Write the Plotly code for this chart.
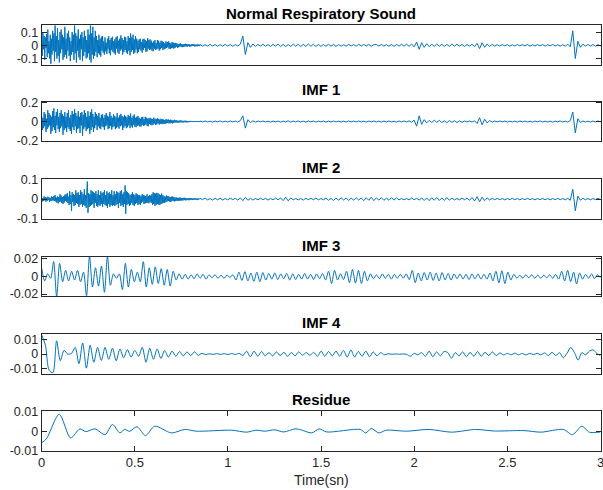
import numpy as np
import plotly.graph_objects as go

# ---------------- data ----------------
# Noisy panels: early part 0-0.85 s and late part 0.85-3 s, values in units of 0.001
orig_early = [40,-80,95,-30,70,-110,60,-20,85,-90,120,-60,30,-100,80,-140,50,-70,110,-40,
              90,-120,150,-50,70,-100,130,-80,40,-130,100,-60,120,-30,80,-110,60,-90,140,-70,
              50,-100,90,-40,110,-80,60,-120,30,-70,100,-50,80,-110,150,-60,90,-130,70,-40,
              120,-90,50,-110,80,-30,100,-120,60,-80,110,-50,70,-100,40,-90,120,-60,80,-110,
              150,-130,90,-70,140,-100,60,-80,110,-50,70,-90,40,-60,80,-70,50,-85,65,-40,
              70,-55,30,-70,60,-45,20,-65,50,-30,70,-60,40,-75,55,-35,65,-50,30,-60,
              45,-70,60,-25,70,-55,35,-65,50,-40,75,-30,55,-70,40,-50,65,-35,60,-55,
              30,-65,70,-40,55,-75,90,-50,60,-35,80,-65,45,-55,70,-30,50,-60,35,-50,
              45,-30,50,-40,25,-55,45,-35,50,-20,40,-50,30,-45,55,-25,40,-35,45,-30,
              35,-40,20,-45,30,-25,40,-35,15,-30,40,-25,35,-40,20,-30,35,-20,30,-35,
              25,-30,15,-25,30,-20,25,-15,30,-25,20,-28,15,-22,25,-18,20,-25,15,-20,
              18,-12,15,-18,10,-15,12,-8,15,-12,10,-14,8,-12,10,-9,12,-8,10,-11,
              8,-6,9,-10,5,-8,7,-6,9,-5,7,-8,6,-7,5,-8,6,-5,7,-6]
orig_late = [6,-7,5,-6,7,-5,6,-7,5,-6, 7,-6,5,-7,6,-5,10,70,-70,20,
             -15,10,-8,7,-6,8,-7,6,-8,7, -6,9,-8,7,-9,6,-8,9,-7,8,
             -9,7,-8,10,-7,8,-9,7,-8,6, -7,8,-6,7,-8,6,-7,5,-6,7,
             -5,6,-7,8,-6,7,-5,6,-7,5, 6,-5,7,-6,5,-7,6,-8,7,-6,
             8,-7,9,-8,10,-12,25,-30,20,-15, 12,-10,9,-8,10,-7,8,-9,7,-8,
             9,-7,8,-6,7,-8,6,-7,8,-10, 15,-25,20,-15,10,-8,7,-6,5,-6,
             5,-4,5,-6,4,-5,6,-4,5,-4, 5,-6,4,-5,6,-4,5,-6,5,-4,
             6,-5,4,-6,5,-7,8,-10,110,-100, 30,-15,8,-6,7,-5,6,-7,5,-6]

imf1_early = [60,-90,40,-70,100,-50,80,-110,30,-80,120,-60,90,-40,70,-130,50,-100,110,-60,
              140,-90,60,-120,100,-40,130,-80,50,-110,90,-70,120,-50,80,-140,60,-90,100,-70,
              50,-110,90,-60,120,-80,40,-100,70,-130,110,-60,80,-90,130,-50,90,-120,60,-80,
              110,-70,50,-120,90,-40,100,-150,70,-80,120,-60,90,-100,50,-80,110,-70,60,-130,
              100,-90,130,-60,80,-110,50,-70,100,-40,80,-90,60,-50,90,-70,40,-80,70,-50,
              80,-60,40,-90,70,-50,90,-40,60,-80,50,-70,100,-45,60,-85,40,-60,75,-50,
              60,-80,45,-70,90,-55,40,-75,65,-50,80,-40,60,-90,50,-65,70,-45,55,-70,
              45,-60,70,-40,55,-70,85,-50,40,-65,60,-35,75,-55,40,-60,50,-45,60,-40,
              40,-50,30,-55,45,-35,50,-45,25,-40,50,-30,40,-45,30,-50,35,-25,40,-35,
              30,-40,25,-35,40,-20,30,-35,25,-30,35,-20,28,-32,20,-25,30,-22,25,-28,
              20,-25,15,-22,25,-18,20,-15,22,-20,15,-18,20,-14,16,-20,12,-15,18,-12,
              12,-10,14,-12,8,-11,10,-9,12,-8,10,-9,7,-10,8,-7,9,-8,7,-9,
              6,-7,5,-6,7,-5,6,-4,5,-6,4,-5,6,-4,5,-5,4,-6,5,-4]
imf1_late = [5,-4,6,-5,4,-6,5,-4,6,-5, 4,-5,6,-4,5,-6,10,60,-70,20,
             -12,8,-6,5,-4,6,-5,4,-6,5, -4,5,-6,4,-5,8,-6,5,-4,6,
             -5,4,-6,5,-4,6,-7,5,-4,5, -6,4,-5,6,-4,5,-6,4,-5,6,
             -4,5,-4,6,-5,4,-6,5,-4,5, -5,4,-6,5,-4,6,-5,4,-6,5,
             -4,6,-5,7,-8,15,-50,60,-30,20, -15,12,-10,14,-8,12,-10,8,-12,10,
             -8,9,-10,7,-8,6,-5,6,-5,8, -20,40,-35,25,-15,10,-6,5,-4,5,
             -4,5,-6,4,-5,4,-6,5,-4,5, -5,4,-6,5,-4,6,-5,4,-5,4,
             -6,5,-4,6,-5,4,-6,10,100,-120, 30,-10,6,-5,4,-6,5,-4,6,-5]

imf2_early = [8,-12,5,-10,14,-6,10,-13,7,-9,12,-5,9,-14,6,-10,13,-8,11,-7,
              15,-10,20,-12,8,-18,14,-22,10,-15,25,-12,18,-20,10,-25,15,-18,22,-10,
              25,-15,30,-20,12,-30,40,-25,20,-60,35,-15,25,-35,20,-30,45,-20,30,-25,
              35,-40,20,-30,45,-25,35,-40,25,-30,50,-35,20,-45,40,90,-70,30,-40,25,
              -35,45,-30,40,-25,35,-45,30,-20,40,-35,25,-40,45,-30,20,-35,40,-25,30,
              -40,35,-25,45,-30,20,-35,40,-45,30,-25,35,-40,25,-30,45,-35,20,-30,40,
              -35,25,-30,40,-25,35,-45,30,-20,40,-35,45,-30,25,-40,35,-25,70,-75,40,
              -30,35,-25,30,-35,20,-30,25,-20,35,-30,25,-35,20,-25,30,-20,25,-30,20,
              -25,20,-30,15,-20,25,-15,20,-25,18,-22,15,-20,25,-18,15,-22,20,-15,18,
              -20,25,-30,35,-25,30,-35,28,-30,32,-25,30,-28,25,-30,20,-25,28,-22,20,
              -18,15,-20,12,-15,18,-12,15,-10,14,-12,10,-15,12,-10,13,-9,11,-12,8,
              -10,8,-9,7,-10,6,-8,9,-7,6,-8,5,-7,6,-5,7,-6,5,-6,4,
              -5,4,-6,5,-4,5,-3,4,-5,3,-4,5,-3,4,-4,3,-5,4,-3,4]
imf2_late = [4,-3,5,-4,3,-5,4,-3,4,-5, 3,-4,5,-3,4,-5,6,-8,9,-6,
             4,-5,3,-4,5,-3,4,-5,3,-4, 5,-4,6,-8,10,-9,6,-4,3,-4,
             3,-5,4,-3,4,-3,5,-4,3,-4, 5,-6,4,-7,5,-6,7,-5,6,-7,
             5,-6,7,-5,6,-8,7,-6,10,-8, 6,-5,7,-6,5,-6,7,-5,6,-4,
             3,-4,3,-4,5,-3,4,-5,6,-7, 6,-8,7,-6,8,-7,6,-7,8,-6,
             5,-4,3,-4,5,-3,4,-6,8,-10, 12,-14,10,-8,6,-5,4,-3,4,-3,
             3,-4,3,-3,4,-3,3,-4,3,-3, 4,-3,3,-4,3,-3,4,-3,3,-4,
             3,-3,4,-3,3,-4,4,-6,50,-60, 15,-6,4,-3,3,-4,3,-3,4,-3]

# IMF 3, units of 0.0001, evenly spaced over 0-3 s
imf3 = [95,-50,30,-20,170,-230,150,-60,70,-50, 60,-40,70,-60,50,-220,230,-120,100,-110,
        120,-180,230,-100,30,-20,30,-150,150,-120, 80,-60,50,-60,170,-120,100,-90,110,-80,
        90,-100,80,-110,60,-40,30,-30,25,-30, 20,-25,30,-20,25,-30,20,-15,20,-20,
        15,-20,15,-10,20,-40,50,-45,55,-50, 40,-55,50,-60,45,-40,35,-30,40,-35,
        30,-25,35,-40,30,-35,25,-30,35,-30, 25,-35,30,-25,35,-40,60,-80,70,-40,
        30,-35,60,-70,80,-75,70,-80,60,-50, 30,-25,20,-25,30,-20,25,-30,25,-20,
        25,-20,30,-35,70,-70,40,-50,45,-40, 50,-45,40,-50,45,-40,35,-40,30,-25,
        30,-30,25,-35,30,-25,30,-30,25,-30, 40,-50,60,-70,65,-80,50,-40,25,-20,
        15,-20,20,-15,20,-20,15,-20,15,-15, 20,-20,25,-30,60,-50,70,-60,50,-85,
        40,-30,25,-20,30,-25,20,-15]

# IMF 4, units of 0.0001, evenly spaced over 0-3 s
imf4 = [130,60,-110,-125,90,-45,25,0,5,45, -65,75,-95,60,-55,45,-43,45,-35,40,
        -45,35,-25,30,-20,25,-15,45,-55,40, -35,35,-30,25,-20,20,-15,18,-12,15,
        -10,15,-8,5,-3,2,-2,3,-2,3, -3,4,-3,5,-10,20,-18,20,-15,18,
        -12,10,-12,15,-10,12,-15,10,-12,15, -8,10,-8,12,-15,20,-15,18,-12,20,
        -15,25,-20,28,-20,18,-15,20,-18,15, -12,10,-5,2,-1,1,-1,1,-2,-15,
        5,-5,10,-15,20,-18,15,-12,18,10, -28,10,-12,15,-18,12,-15,18,-15,12,
        -10,15,-10,8,-5,5,-5,6,-5,5, -6,5,-4,5,-5,8,-10,12,-10,10,
        -25,5,45,10,-40,10,-5,20,28,5, -10]

# Residue: (time s, value in 0.0001)
res_t = [0.0,0.025,0.0945,0.155,0.205,0.237,0.286,0.34,0.38,0.42,0.446,0.47,0.512,0.557,
         0.607,0.696,0.768,0.83,1.02,1.1,1.15,1.2,1.25,1.3,1.36,1.385,1.45,1.49,1.53,1.71,
         1.74,1.77,1.81,1.85,1.96,2.08,2.2,2.33,2.43,2.59,2.68,2.8,2.85,2.9,2.94,3.0]
res_v = [-60,-40,88,-35,12,-2,12,-18,35,-9,10,-1,23,-23,
         26,-9,9,0,5,-5,5,0,7,-4,12,9,-9,12,-4,9,
         -9,14,-9,5,0,9,-5,9,1,3,-5,9,-18,26,-5,-4]

titles = ["Normal Respiratory Sound", "IMF 1", "IMF 2", "IMF 3", "IMF 4", "Residue"]
y_ticks = [[0.1, 0, -0.1], [0.2, 0, -0.2], [0.1, 0, -0.1],
           [0.02, 0, -0.02], [0.01, 0, -0.01], [0.01, 0, -0.01]]
y_ticktext = [["0.1", "0", "-0.1"], ["0.2", "0", "-0.2"], ["0.1", "0", "-0.1"],
              ["0.02", "0", "-0.02"], ["0.01", "0", "-0.01"], ["0.01", "0", "-0.01"]]
x_ticks = [0, 0.5, 1, 1.5, 2, 2.5, 3]
x_ticktext = ["0", "0.5", "1", "1.5", "2", "2.5", "3"]
x_label = "Time(sn)"

# ---------------- build ----------------
W, H = 603, 490
X0, X1 = 41.7, 600.5
TOPS = [25, 101.5, 179, 256.7, 334, 411]
PH = 39.6
YR = [[-0.146, 0.154], [-0.207, 0.212], [-0.1, 0.103],
      [-0.0226, 0.0226], [-0.0132, 0.0136], [-0.0101, 0.0105]]
COLOR = "#0072BD"
AX = "#262626"
FONT = "Liberation Sans, Arial, Helvetica, sans-serif"


def noisy(early, late, scale):
    te = np.linspace(0, 0.85, len(early), endpoint=False)
    tl = np.linspace(0.85, 3.0, len(late))
    return np.concatenate([te, tl]), np.array(early + late) * scale


series = [
    noisy(orig_early, orig_late, 1e-3) + ("linear",),
    noisy(imf1_early, imf1_late, 1e-3) + ("linear",),
    noisy(imf2_early, imf2_late, 1e-3) + ("linear",),
    (np.linspace(0, 3, len(imf3)), np.array(imf3) * 1e-4, "spline"),
    (np.linspace(0, 3, len(imf4)), np.array(imf4) * 1e-4, "spline"),
    (np.array(res_t), np.array(res_v) * 1e-4, "spline"),
]

fig = go.Figure()
annotations = []
for i, (t, v, shape) in enumerate(series):
    n = i + 1
    xa = "x" if n == 1 else f"x{n}"
    ya = "y" if n == 1 else f"y{n}"
    fig.add_trace(go.Scatter(x=t, y=v, mode="lines", xaxis=xa, yaxis=ya,
                             line=dict(color=COLOR, width=1, shape=shape, smoothing=0.8),
                             showlegend=False, hoverinfo="skip", cliponaxis=True))
    top = TOPS[i]
    bot = top + PH
    ydom = [1 - bot / H, 1 - top / H]
    last = (n == 6)
    fig.update_layout(**{
        ("xaxis" if n == 1 else f"xaxis{n}"): dict(
            domain=[X0 / W, X1 / W], anchor=ya, range=[0, 3], automargin=False,
            showline=True, mirror="allticks" if last else True, linecolor=AX, linewidth=1,
            ticks="inside" if last else "", ticklen=5, tickcolor=AX,
            tickvals=x_ticks if last else [], ticktext=x_ticktext if last else [],
            showticklabels=last, showgrid=False, zeroline=False,
            ticklabeloverflow="allow",
            tickfont=dict(family=FONT, size=13, color=AX)),
        ("yaxis" if n == 1 else f"yaxis{n}"): dict(
            domain=ydom, anchor=xa, range=YR[i], automargin=False,
            showline=True, mirror="allticks", linecolor=AX, linewidth=1,
            ticks="inside", ticklen=5, tickcolor=AX,
            tickvals=y_ticks[i], ticktext=y_ticktext[i],
            showgrid=False, zeroline=False,
            tickfont=dict(family=FONT, size=12.5, color=AX)),
    })
    annotations.append(dict(text=titles[i], x=(X0 + X1) / 2 / W, y=1 - (top - 11.7) / H,
                            xref="paper", yref="paper", xanchor="center", yanchor="middle",
                            showarrow=False,
                            font=dict(family=FONT, size=15, color="#000000", weight="bold")))

annotations.append(dict(text=x_label, x=(X0 + X1) / 2 / W, y=1 - 480 / H,
                        xref="paper", yref="paper", xanchor="center", yanchor="middle",
                        showarrow=False, font=dict(family=FONT, size=14, color=AX)))

fig.update_layout(width=W, height=H, margin=dict(l=0, r=0, t=0, b=0, autoexpand=False),
                  paper_bgcolor="white", plot_bgcolor="white",
                  annotations=annotations, showlegend=False)

fig.write_html("out.html")
